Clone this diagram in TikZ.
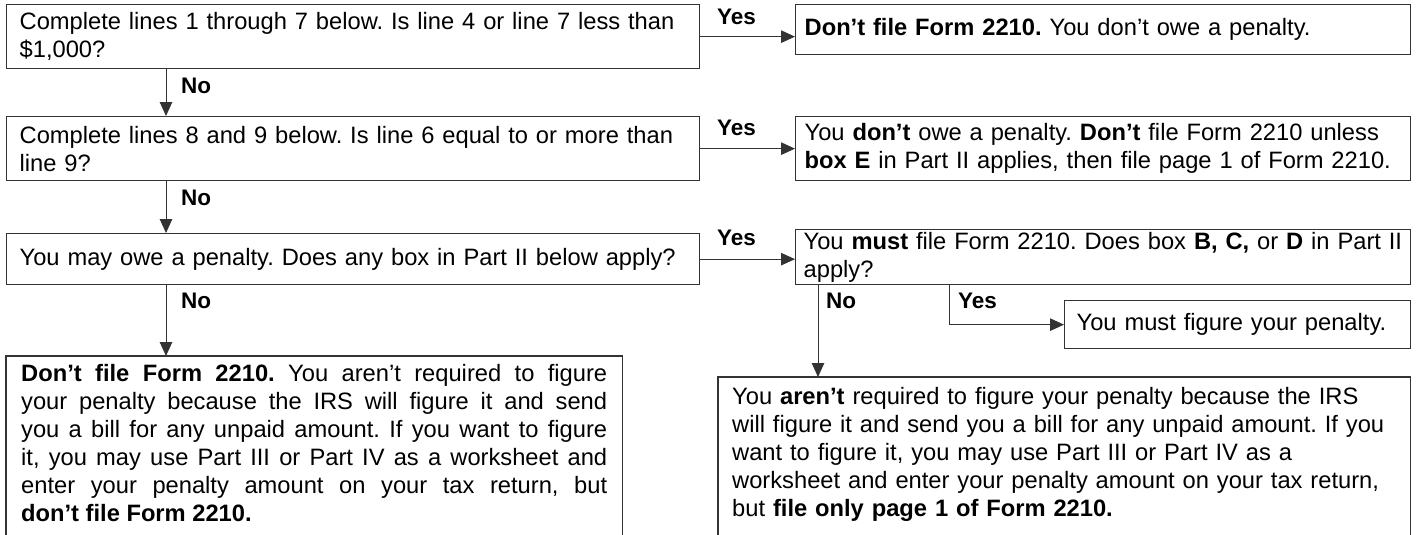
\documentclass[tikz,border=0pt]{standalone}
\usepackage{fontspec}
\setmainfont{Liberation Sans}
\usetikzlibrary{arrows.meta}
\begin{document}
\frenchspacing
\begin{tikzpicture}[x=1pt,y=-1pt,
  txt/.style={font=\fontsize{23.7}{28}\selectfont\frenchspacing},
  box/.style={txt, draw=black!80, line width=1.3pt, anchor=north west, inner xsep=12pt, inner ysep=0pt, align=left},
  openbox/.style={txt, anchor=north west, inner ysep=8pt},
  border/.style={draw=black!80, line width=1.3pt},
  lbl/.style={font=\fontsize{22.5}{26}\selectfont\bfseries, anchor=west, inner sep=0pt},
  arr/.style={draw=black!80, line width=1pt, -{Triangle[length=14pt,width=12.5pt]}}]
\fill[white] (0,0) rectangle (1416,535);
\path[use as bounding box] (0,0) rectangle (1416,535);
\clip (0,0) rectangle (1416,535);
% left column
\node[box, inner xsep=13pt, text width=667pt, minimum height=64pt] (B1) at (6,4)
  {Complete lines 1 through 7 below. Is line 4 or line 7 less than\\\$1,000?};
\node[box, inner xsep=13pt, text width=667pt, minimum height=64pt] (B2) at (6,116)
  {Complete lines 8 and 9 below. Is line 6 equal to or more than\\line 9?};
\node[box, inner xsep=13pt, text width=667pt, minimum height=51pt] (B3) at (6,233)
  {You may owe a penalty. Does any box in Part II below apply?};
\node[openbox, text width=586pt, inner xsep=15pt, align=justify] (BL) at (6,356)
  {\textbf{Don’t file Form 2210.} You aren’t required to figure\linebreak
   your penalty because the IRS will figure it and send\linebreak
   you a bill for any unpaid amount. If you want to figure\linebreak
   it, you may use Part III or Part IV as a worksheet and\linebreak
   enter your penalty amount on your tax return, but\linebreak
   \textbf{don’t file Form 2210.}};
\draw[border] ([yshift=-60pt]BL.south west) -- (BL.north west) -- (BL.north east) -- ([yshift=-60pt]BL.south east);
% right column
\node[box, inner xsep=9pt, text width=597pt, minimum height=50pt] (R1) at (795,4)
  {\textbf{Don’t file Form 2210.} You don’t owe a penalty.};
\node[box, inner xsep=9pt, text width=597pt, minimum height=64pt] (R2) at (795,116)
  {You \textbf{don’t} owe a penalty. \textbf{Don’t} file Form 2210 unless\\\textbf{box E} in Part II applies, then file page 1 of Form 2210.};
\node[box, inner xsep=8pt, text width=599pt, minimum height=55pt] (R3) at (795,229)
  {\mbox{You \textbf{must} file Form 2210. Does box \textbf{B, C,} or \textbf{D} in Part II}\\apply?};
\node[box, text width=322pt, minimum height=48pt] (R4) at (1064,300)
  {You must figure your penalty.};
\node[openbox, text width=664pt, inner xsep=14pt, inner ysep=10pt, align=left] (BR) at (718,377)
  {You \textbf{aren’t} required to figure your penalty because the IRS\\
   will figure it and send you a bill for any unpaid amount. If you\\
   want to figure it, you may use Part III or Part IV as a\\
   worksheet and enter your penalty amount on your tax return,\\
   but \textbf{file only page 1 of Form 2210.}};
\draw[border] ([yshift=-80pt]BR.south west) -- (BR.north west) -- (BR.north east) -- ([yshift=-80pt]BR.south east);
% column coordinates
\coordinate (cL) at (166,0);
\coordinate (cN) at (818,0);
\coordinate (cY) at (949,0);
% connectors
\draw[arr] (B1.south -| cL) -- (B2.north -| cL);
\draw[arr] (B2.south -| cL) -- (B3.north -| cL);
\draw[arr] (B3.south -| cL) -- (BL.north -| cL);
\draw[arr] (B1.east) -- (B1.east -| R1.west);
\draw[arr] (B2.east) -- (B2.east -| R2.west);
\draw[arr] (B3.east) -- (B3.east -| R3.west);
\draw[arr] (R3.south -| cN) -- (BR.north -| cN);
\draw[arr] (R3.south -| cY) |- (R4.west);
% labels
\node[lbl] (n1) at (181,86) {No};
\node[lbl] (n2) at (181,198) {No};
\node[lbl] (n3) at (181,301) {No};
\node[lbl] (y1) at (717,17) {Yes};
\node[lbl] (y2) at (717,128) {Yes};
\node[lbl] (y3) at (717,238) {Yes};
\node[lbl] (n4) at (826,301) {No};
\node[lbl] (y4) at (958,301) {Yes};
\end{tikzpicture}
\end{document}
